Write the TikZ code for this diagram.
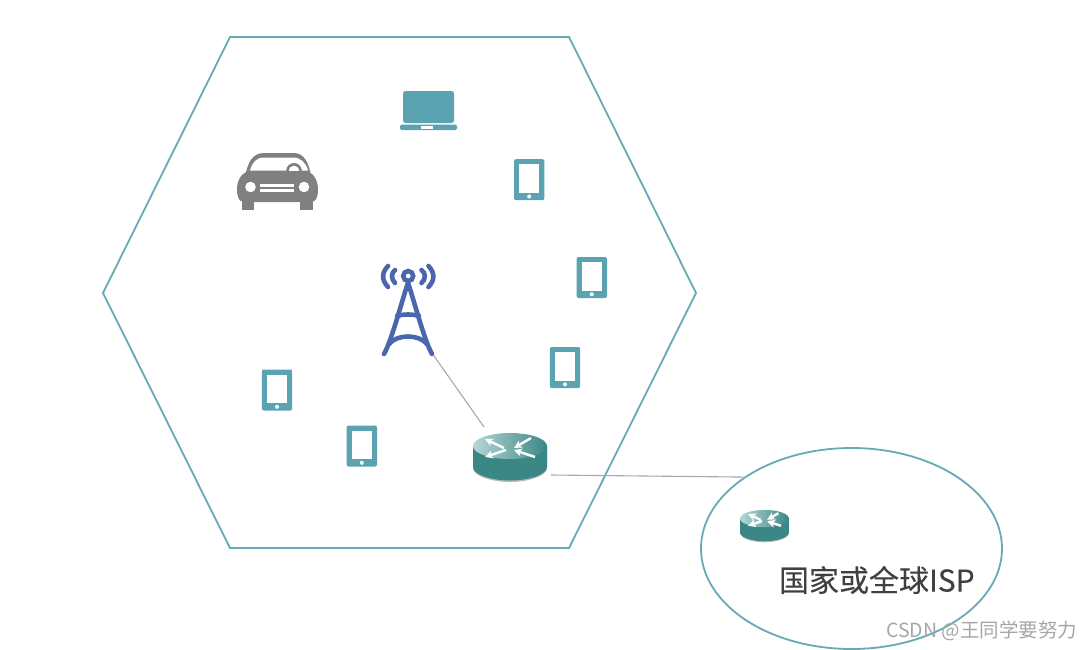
\documentclass[tikz,border=0pt]{standalone}
\usepackage{fontspec}
\usetikzlibrary{shapes.geometric,arrows.meta}
\newfontfamily\cjkfont{Noto Sans CJK SC}
\newfontfamily\cjkheavy[FakeBold=0.25]{Noto Sans CJK SC}
\definecolor{hexc}{HTML}{66AAB5}
\definecolor{devc}{HTML}{5BA3B0}
\definecolor{carc}{HTML}{808080}
\definecolor{towc}{HTML}{4A66AC}
\definecolor{linkc}{HTML}{A8A8A8}
\definecolor{rtrc}{HTML}{3A8786}
\definecolor{rtrl}{HTML}{B5D6D6}
\tikzset{
  x=1pt,y=-1pt,
  cell/.style={draw=hexc,line width=1.8pt,fill=none},
  link/.style={draw=linkc,line width=1.1pt},
  mast/.style={draw=towc,line width=4.6pt,line cap=round},
  box/.style={inner sep=0pt,outer sep=0pt},
  rarrow/.style={draw=white,line width=2.4pt,-{Stealth[length=8pt,width=8pt]}},
  tablet/.pic={
    \fill[devc,rounded corners=2pt] (-15.2,-20.5) rectangle (15.2,20.5);
    \fill[white] (-10.2,-15.5) rectangle (10.2,13.2);
    \fill[white] (0,16.8) circle[radius=2];
  },
  router/.pic={
    \fill[gray!55] (-37,0) -- (-37,22) .. controls (-37,30) and (-18,36) .. (0,36) .. controls (18,36) and (37,30) .. (37,22) -- (37,0) -- cycle;
    \fill[rtrc] (-37,0) -- (-37,21) .. controls (-37,29) and (-18,34.5) .. (0,34.5) .. controls (18,34.5) and (37,29) .. (37,21) -- (37,0) -- cycle;
    \shade[left color=rtrl,middle color=rtrc,right color=rtrc] (0,0) ellipse[x radius=37,y radius=13];
    \draw[rarrow] (-6,2) -- (-25,-7);
    \draw[rarrow] (21,-8) -- (4,2);
    \draw[rarrow] (-4,4) -- (-25,11);
    \draw[rarrow] (25,11) -- (4,4);
  }
}
\begin{document}
\begin{tikzpicture}
\useasboundingbox (0,0) rectangle (1090,649);
\fill[white] (0,0) rectangle (1090,649);
% hexagon cell
\draw[cell] (103,293) -- (230,37) -- (569,37) -- (696,293) -- (569,548) -- (230,548) -- cycle;
% ISP ellipse
\node[ellipse,draw=hexc,line width=1.8pt,minimum width=301pt,minimum height=201pt,box] (isp) at (851.5,548.5) {};
% laptop
\fill[devc,rounded corners=2.5pt] (403,123) -- (403,91) -- (454,91) -- (454,123) -- cycle;
\fill[devc,rounded corners=1.5pt] (400,124.5) rectangle (457,130);
\fill[white] (421,126.3) rectangle (433,128.6);
% car
\fill[carc] (245,176) .. controls (248,163) and (252,153) .. (264,153) -- (294,153) .. controls (304,153) and (309,163) .. (311,176) -- cycle;
\fill[carc] (237,190) .. controls (237,178) and (243,171) .. (252,171) -- (303,171) .. controls (312,171) and (318,178) .. (318,190) .. controls (318,197) and (316,202) .. (311,202) -- (244,202) .. controls (239,202) and (237,197) .. (237,190) -- cycle;
\fill[carc] (242,200) rectangle (254,210);
\fill[carc] (300,200) rectangle (313,210);
\fill[white] (250,170.5) .. controls (252,163) and (256,157.5) .. (264,157.5) -- (293,157.5) .. controls (301,157.5) and (306,163) .. (308,170.5) -- cycle;
\fill[carc] (286,172) .. controls (286,160) and (302,160) .. (302,172) -- cycle;
\fill[white] (289,171) .. controls (289,164) and (299,164) .. (299,171) -- cycle;
\fill[white] (250.5,187) circle[radius=5.3];
\fill[white] (304,187) circle[radius=5.3];
\draw[white,line width=2.2pt] (260,185.5) -- (294,185.5);
\draw[white,line width=2.2pt] (260,190.5) -- (294,190.5);
% tablets
\pic at (529.2,179.7) {tablet};
\pic at (591.8,277.5) {tablet};
\pic at (565,367.5) {tablet};
\pic at (277,390) {tablet};
\pic at (361.8,446) {tablet};
% tower
\node[box,minimum width=52pt,minimum height=92pt] (tower) at (408,310) {};
\draw[mast] (408.2,276) circle[radius=5];
\draw[mast] (388,266) .. controls (381.5,273) and (381.5,280) .. (388,287);
\draw[mast] (395,270) .. controls (391,273) and (391,279) .. (395,283);
\draw[mast] (428.5,266) .. controls (435,273) and (435,280) .. (428.5,287);
\draw[mast] (421.5,270) .. controls (426,273) and (426,279) .. (421.5,283);
\draw[mast,line join=round] (384,354) .. controls (392,340) and (402,300) .. (408,283) .. controls (414,300) and (424,340) .. (432,354);
\draw[mast] (397,316) .. controls (403,314) and (413,314) .. (419,316);
\draw[mast] (389,344) .. controls (397,334) and (419,334) .. (427,344);
% routers
\node[box,minimum width=74pt,minimum height=48pt] (rtrA) at (510,457) {};
\pic at (510,446) {router};
\node[box,minimum width=49pt,minimum height=32pt] (rtrB) at (764.5,525) {};
\pic[scale=0.66] at (764.5,518.5) {router};
% links
\coordinate (rtrAtop) at (484,427);
\coordinate (rtrAright) at (551,475);
\draw[link] (tower.south east) -- (rtrAtop);
\draw[link] (rtrAright) -- (isp.146);
% labels
\node[box,text=black!75,font=\cjkheavy\fontsize{30}{32}\selectfont,anchor=west] (isplabel) at (779,580) {国家或全球ISP};
\node[box,text=black!35,font=\cjkfont\fontsize{19.5}{22}\selectfont,anchor=east] (mark) at (1077,631) {CSDN @王同学要努力};
\end{tikzpicture}
\end{document}
